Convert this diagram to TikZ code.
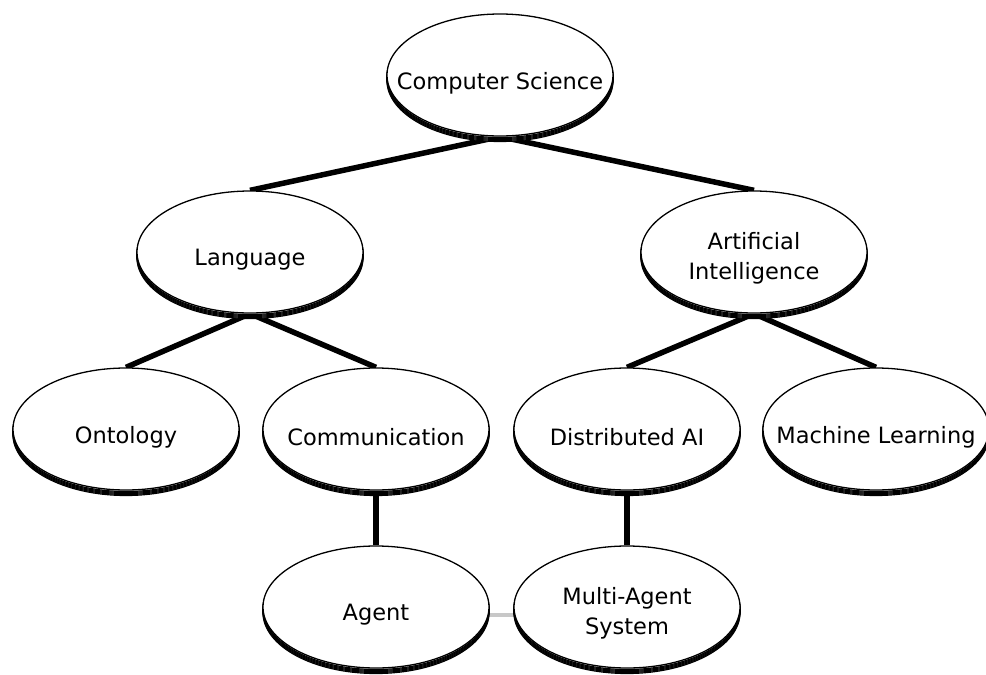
\documentclass[tikz,border=0pt]{standalone}
\usepackage{fontspec}
\setmainfont{DejaVu Sans}
\usetikzlibrary{shapes.geometric}
\pgfdeclarelayer{background}
\pgfsetlayers{background,main}
\definecolor{peergray}{RGB}{200,200,200}
\begin{document}
\begin{tikzpicture}[x=1pt,y=-1pt,
  % stacked outline copies under each ellipse give the raised-disc look
  rim/.style={preaction={draw=black, fill=white, line width=1.2pt,
      transform canvas={yshift=#1}}},
  topic/.style={ellipse, draw=black, line width=1.3pt, fill=white,
    minimum width=226pt, minimum height=122pt, inner sep=0pt,
    rim=-5.5pt, rim=-4.5pt, rim=-3.5pt, rim=-2.5pt, rim=-1.5pt},
  caption/.style={font=\fontsize{22.5}{30}\selectfont, align=center},
  oneline/.style={caption, anchor=base, yshift=-8pt},
  twoline/.style={caption, anchor=center, yshift=-6pt},
  link/.style={line width=5.5pt, black},
  peer/.style={line width=4pt, peergray}]

\useasboundingbox (0,0) rectangle (986,675);

% topics
\node[topic, label={[oneline]center:Computer Science}] (cs) at (500,75) {};
\node[topic, label={[oneline]center:Language}] (lang) at (250,252) {};
\node[topic, label={[twoline]center:Artificial\\Intelligence}] (ai) at (754,252) {};
\node[topic, label={[oneline]center:Ontology}] (onto) at (126,429) {};
\node[topic, label={[oneline]center:Communication}] (comm) at (376,429) {};
\node[topic, label={[oneline]center:Distributed AI}] (dai) at (627,429) {};
\node[topic, label={[oneline]center:Machine Learning}] (ml) at (876,429) {};
\node[topic, label={[oneline]center:Agent}] (agent) at (376,607) {};
\node[topic, label={[twoline]center:Multi-Agent\\System}] (mas) at (627,607) {};

% page ground and hierarchy links, kept behind the discs
\begin{pgfonlayer}{background}
  \fill[white] (0,0) rectangle (986,675);
  \draw[link] (cs.south) -- (lang.north);
  \draw[link] (cs.south) -- (ai.north);
  \draw[link] (lang.south) -- (onto.north);
  \draw[link] (lang.south) -- (comm.north);
  \draw[link] (ai.south) -- (dai.north);
  \draw[link] (ai.south) -- (ml.north);
  \draw[link] (comm.south) -- (agent.north);
  \draw[link] (dai.south) -- (mas.north);
  \draw[peer] (agent.-4) -- (mas.184);
\end{pgfonlayer}
\end{tikzpicture}
\end{document}
